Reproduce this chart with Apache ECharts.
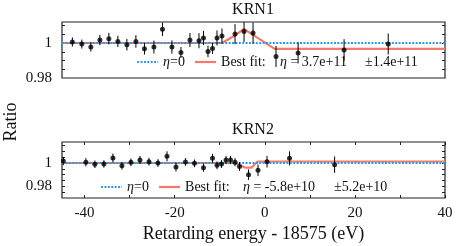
<!DOCTYPE html>
<html><head><meta charset="utf-8">
<script src="https://cdn.jsdelivr.net/npm/echarts@6/dist/echarts.min.js"></script>
<style>html,body{margin:0;padding:0;background:#fff}#c{width:457px;height:246px}</style>
</head><body><div id="c"></div>
<script>
const FONT = '"Liberation Serif","Times New Roman",serif';

// axis ticks / labels
const xTickValues = [-40, -30, -20, -10, 0, 10, 20, 30, 40];
const xLabelValues = [-40, -20, 0, 20, 40];
const krn1YTicks = [0.985, 0.99, 0.995, 1, 1.005, 1.01];
const krn2YTicks = [0.975, 0.98, 0.985, 0.99, 0.995, 1, 1.005, 1.01, 1.015];
const yLabelValues = [0.98, 1];

// KRN1 data
const krn1X = [-42.7, -40.6, -38.6, -36.6, -34.6, -32.6, -30.6, -28.6, -26.7, -24.6, -22.7, -20.6, -18.6, -16.6, -14.6, -13.6, -12.6, -11.6, -10.6, -9.5, -6.6, -4.6, -2.6, 2.5, 7.4, 17.6, 27.4];
const krn1Y = [1.0006, 0.9994, 0.9977, 1.0017, 1.0025, 1.0009, 0.9990, 1.0009, 0.9967, 0.9977, 1.0078, 0.9977, 0.9946, 1.0017, 1.0013, 1.0029, 0.9952, 0.9969, 1.0029, 1.0040, 1.0051, 1.0066, 1.0057, 0.9923, 0.9943, 0.9960, 0.9994];
const krn1Err = [0.0026, 0.0026, 0.0026, 0.0030, 0.0033, 0.0032, 0.0033, 0.0036, 0.0033, 0.0037, 0.0038, 0.0038, 0.0031, 0.0040, 0.0043, 0.0040, 0.0033, 0.0031, 0.0043, 0.0043, 0.0057, 0.0060, 0.0060, 0.0060, 0.0060, 0.0062, 0.0060];
const krn1FitX = [-45, -9.5, -6.6, -4.6, -2.6, 2.2, 40];
const krn1FitY = [1.0, 1.0, 1.0043, 1.0080, 1.0046, 0.9966, 0.9966];

// KRN2 data
const krn2X = [-44.7, -39.7, -37.7, -35.7, -33.7, -31.7, -29.7, -27.7, -25.7, -23.7, -21.7, -19.7, -17.6, -15.6, -13.6, -11.6, -10.6, -9.6, -8.6, -7.6, -6.6, -5.6, -3.6, -1.5, 0.5, 5.5, 15.5];
const krn2Y = [1.0017, 1.0006, 0.9989, 0.9992, 1.0043, 0.9977, 1.0006, 1.0026, 1.0011, 1.0000, 1.0057, 0.9966, 1.0009, 0.9997, 0.9960, 1.0040, 0.9980, 0.9991, 1.0026, 1.0025, 1.0007, 0.9970, 0.9900, 0.9937, 1.0011, 1.0040, 0.9986];
const krn2Err = [0.0035, 0.0035, 0.0032, 0.0032, 0.0038, 0.0033, 0.0033, 0.0035, 0.0033, 0.0033, 0.0043, 0.0038, 0.0033, 0.0033, 0.0035, 0.0038, 0.0033, 0.0033, 0.0035, 0.0035, 0.0035, 0.0038, 0.0045, 0.0050, 0.0050, 0.0060, 0.0070];
const krn2FitX = [-45, -6.6, -4.4, -2.9, -1.6, 40];
const krn2FitY = [1.0, 1.0, 0.9961, 0.9961, 1.0013, 1.0013];

const nullX = [-45, 40];
const nullY = [1, 1];

const RED = '#f47a6c';
const BLUE = '#3399de';
const AX = '#222';

function pairs(xs, ys) { return xs.map((x, i) => [x, ys[i]]); }
function errData(xs, ys, es) { return xs.map((x, i) => [x, ys[i] - es[i], ys[i] + es[i]]); }
function errRender(params, api) {
  const x = api.value(0);
  const p1 = api.coord([x, api.value(1)]);
  const p2 = api.coord([x, api.value(2)]);
  return { type: 'line', shape: { x1: p1[0], y1: p1[1], x2: p2[0], y2: p2[1] },
           style: { stroke: '#000', lineWidth: 1 } };
}

function panelSeries(xi, yi, xs, ys, es, fx, fy) {
  return [
    { name: 'Best fit:', type: 'line', xAxisIndex: xi, yAxisIndex: yi, data: pairs(fx, fy),
      symbol: 'none', silent: true, z: 2, lineStyle: { color: RED, width: 2.2 }, itemStyle: { color: RED } },
    { name: 'η=0', type: 'line', xAxisIndex: xi, yAxisIndex: yi, data: pairs(nullX, nullY),
      symbol: 'none', silent: true, z: 3, lineStyle: { color: BLUE, width: 2, type: [2, 1.4] }, itemStyle: { color: BLUE } },
    { type: 'custom', xAxisIndex: xi, yAxisIndex: yi, data: errData(xs, ys, es),
      renderItem: errRender, encode: { x: 0, y: [1, 2] }, clip: true, z: 4, silent: true },
    { type: 'scatter', xAxisIndex: xi, yAxisIndex: yi, data: pairs(xs, ys),
      symbol: 'circle', symbolSize: 5, itemStyle: { color: '#000' }, z: 5, silent: true }
  ];
}

const tickStyle = { inside: true, length: 3, lineStyle: { color: AX, width: 1 } };
const labelStyle = { fontFamily: FONT, fontSize: 15, color: '#111' };
const noLine = { show: false, onZero: false };

function legendCfg(left, top) {
  return {
    left: left, top: top, padding: 0, orient: 'horizontal', itemWidth: 21, itemHeight: 14, itemGap: 9,
    selectedMode: false, data: ['η=0', 'Best fit:'],
    itemStyle: { opacity: 0 },
    lineStyle: { width: 2.2 },
    formatter: n => n === 'η=0' ? '{i|η}{n|=0}' : '{n|' + n + '}',
    textStyle: { fontFamily: FONT, fontSize: 14, color: '#111',
      rich: { i: { fontFamily: FONT, fontSize: 14, fontStyle: 'italic', color: '#111' },
              n: { fontFamily: FONT, fontSize: 14, color: '#111' } } }
  };
}

function txt(x, y, text, size) {
  return { type: 'text', x: x, y: y, silent: true,
    style: { text: text, font: size + 'px ' + FONT, fill: '#111', verticalAlign: 'middle', align: 'left',
      rich: { i: { fontStyle: 'italic', fontFamily: FONT, fontSize: size, fill: '#111' },
              n: { fontFamily: FONT, fontSize: size, fill: '#111' } } } };
}
function title(x, y, text) {
  return { type: 'text', x: x, y: y, silent: true,
    style: { text: text, font: '16px ' + FONT, fill: '#111', align: 'center', verticalAlign: 'middle' } };
}

const chart = echarts.init(document.getElementById('c'), null, { renderer: 'canvas' });
chart.setOption({
  animation: false,
  backgroundColor: '#fff',
  grid: [
    { left: 62, right: 12, top: 22, height: 56, show: true, borderColor: AX, borderWidth: 1.2, backgroundColor: 'transparent' },
    { left: 62, right: 12, top: 142, height: 56, show: true, borderColor: AX, borderWidth: 1.2, backgroundColor: 'transparent' }
  ],
  xAxis: [
    { gridIndex: 0, type: 'value', min: -45, max: 40, position: 'bottom',
      axisLine: noLine, axisTick: { show: false }, axisLabel: { show: false }, splitLine: { show: false } },
    { gridIndex: 1, type: 'value', min: -45, max: 40, position: 'bottom',
      axisLine: noLine, splitLine: { show: false },
      axisTick: Object.assign({ customValues: xTickValues }, tickStyle),
      axisLabel: Object.assign({ customValues: xLabelValues, margin: 8 }, labelStyle),
      name: 'Retarding energy - 18575 (eV)', nameLocation: 'middle', nameGap: 27,
      nameTextStyle: { fontFamily: FONT, fontSize: 18, color: '#111' } },
    { gridIndex: 1, type: 'value', min: -45, max: 40, position: 'top',
      axisLine: noLine, splitLine: { show: false },
      axisTick: Object.assign({ customValues: xTickValues }, tickStyle),
      axisLabel: { show: false } }
  ],
  yAxis: [
    { gridIndex: 0, type: 'value', min: 0.98, max: 1.012, position: 'left',
      axisLine: noLine, splitLine: { show: false },
      axisTick: Object.assign({ customValues: krn1YTicks }, tickStyle),
      axisLabel: Object.assign({ customValues: yLabelValues, margin: 10 }, labelStyle) },
    { gridIndex: 0, type: 'value', min: 0.98, max: 1.012, position: 'right',
      axisLine: noLine, splitLine: { show: false },
      axisTick: Object.assign({ customValues: krn1YTicks }, tickStyle), axisLabel: { show: false } },
    { gridIndex: 1, type: 'value', min: 0.97, max: 1.018, position: 'left',
      axisLine: noLine, splitLine: { show: false },
      axisTick: Object.assign({ customValues: krn2YTicks }, tickStyle),
      axisLabel: Object.assign({ customValues: yLabelValues, margin: 10 }, labelStyle) },
    { gridIndex: 1, type: 'value', min: 0.97, max: 1.018, position: 'right',
      axisLine: noLine, splitLine: { show: false },
      axisTick: Object.assign({ customValues: krn2YTicks }, tickStyle), axisLabel: { show: false } }
  ],
  legend: [legendCfg(136, 55), legendCfg(100, 180)],
  graphic: [
    title(253, 10, 'KRN1'),
    title(253, 130, 'KRN2'),
    txt(280, 62, '{i|η}{n| = 3.7e+11}', 14),
    txt(365, 62, '{n|±1.4e+11}', 14),
    txt(243, 187, '{i|η}{n| = -5.8e+10}', 14),
    txt(334, 187, '{n|±5.2e+10}', 14),
    { type: 'text', x: 11, y: 122, rotation: Math.PI / 2, silent: true,
      style: { text: 'Ratio', font: '18px ' + FONT, fill: '#111', align: 'center', verticalAlign: 'middle' } }
  ],
  series: [].concat(
    panelSeries(0, 0, krn1X, krn1Y, krn1Err, krn1FitX, krn1FitY),
    panelSeries(1, 2, krn2X, krn2Y, krn2Err, krn2FitX, krn2FitY)
  )
});
</script>
</body></html>
